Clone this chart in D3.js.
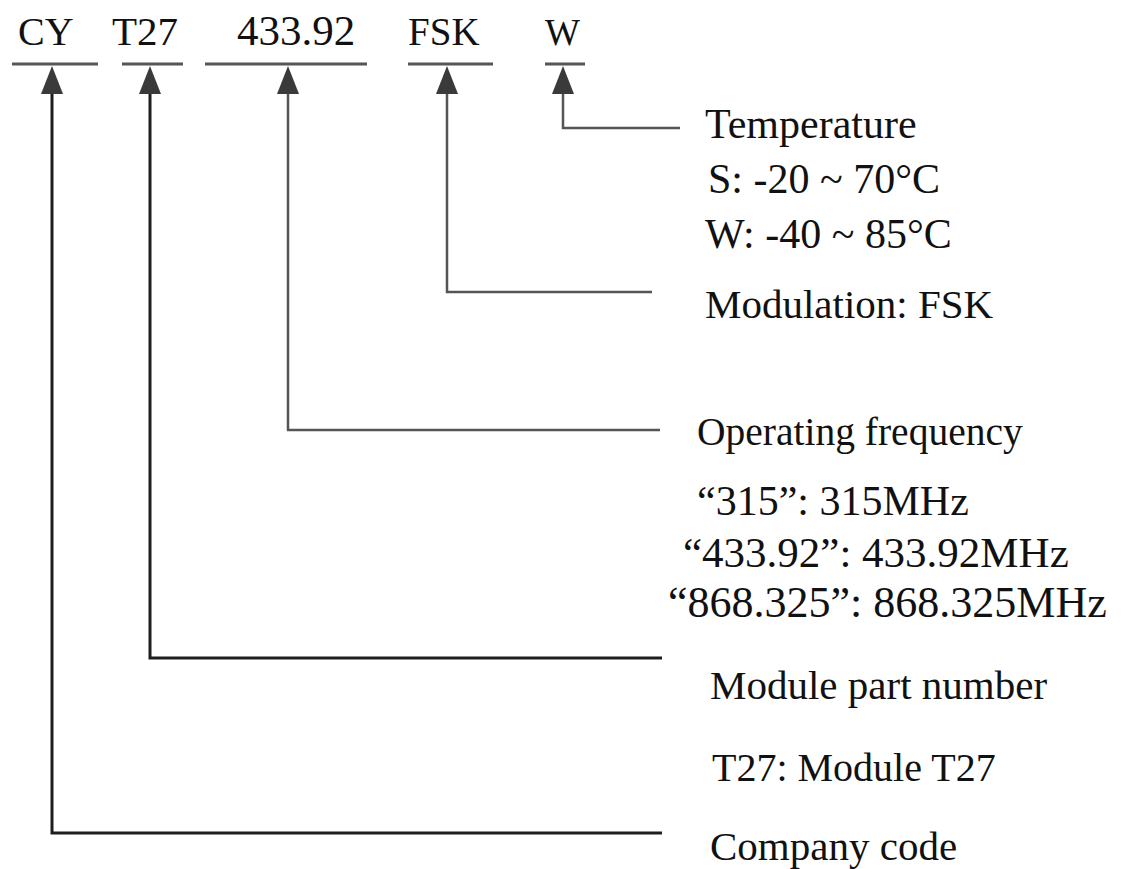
<!DOCTYPE html>
<html>
<head>
<meta charset="utf-8">
<script src="https://cdn.jsdelivr.net/npm/d3@7"></script>
<style>
  body { margin: 0; background: #fff; }
</style>
</head>
<body>
<div id="diagram"></div>
<script>
// part number fields, left to right
let codes = ["CY", "T27", "433.92", "FSK", "W"];
// text attached to each field, top to bottom on the right
let descriptions = [
    ["Company code"],
    ["Module part number", "T27: Module T27"],
    ["Operating frequency", "\u201c315\u201d: 315MHz", "\u201c433.92\u201d: 433.92MHz", "\u201c868.325\u201d: 868.325MHz"],
    ["Modulation: FSK"],
    ["Temperature", "S: -20 ~ 70\u00b0C", "W: -40 ~ 85\u00b0C"]
];

// layout (pixels)
let bar_left  = [12, 122, 205, 408, 545];
let bar_right = [98, 183, 367, 493, 585];
let label_x   = [18, 112, 237, 408, 545];
let label_size = [40, 41, 43, 39, 37];
let arrow_x   = [52, 150, 288, 447, 563];
let elbow_y   = [833, 658, 430, 292, 128];
let line_end  = [662, 662, 660, 652, 680];
let stroke_col = ["#1e1e1e", "#1e1e1e", "#555", "#555", "#555"];
let stroke_w   = [3, 3, 2.5, 2.5, 2.5];

let desc_pos = [
    [[710, 860]],
    [[710, 699], [712, 781]],
    [[697, 445], [697, 515], [683, 567], [668, 617]],
    [[705, 318]],
    [[705, 138], [708, 193], [705, 248]]
];
let desc_size = [
    [41],
    [41, 40],
    [39.5, 42, 43, 44],
    [41],
    [42, 42, 42]
];

let font = "'Liberation Serif', 'Times New Roman', 'DejaVu Serif', serif";
let width = 1123, height = 869;
let svg = d3.select("#diagram").append("svg")
    .attr("width", width).attr("height", height)
    .attr("font-family", font);

let bar_y = 64;
let fields = svg.selectAll("g.field")
    .data(codes)
    .enter().append("g")
    .attr("class", "field");

fields.append("text")
    .attr("x", (d, i) => label_x[i])
    .attr("y", 45)
    .attr("fill", "#111")
    .attr("font-size", (d, i) => label_size[i] + "px")
    .text(d => d);

fields.append("line")
    .attr("x1", (d, i) => bar_left[i])
    .attr("x2", (d, i) => bar_right[i])
    .attr("y1", bar_y).attr("y2", bar_y)
    .attr("stroke", "#555").attr("stroke-width", 3);

// leader line: up to the bar, then across to the description
fields.append("path")
    .attr("d", (d, i) => d3.line()([
        [arrow_x[i], bar_y + 28],
        [arrow_x[i], elbow_y[i]],
        [line_end[i], elbow_y[i]]
    ]))
    .attr("fill", "none")
    .attr("stroke", (d, i) => stroke_col[i])
    .attr("stroke-width", (d, i) => stroke_w[i]);

fields.append("path")
    .attr("d", (d, i) => {
        let x = arrow_x[i];
        return d3.line()([[x, bar_y + 2], [x - 11, bar_y + 30], [x + 11, bar_y + 30]]) + "Z";
    })
    .attr("fill", "#3a3a3a");

codes.forEach((c, i) => {
    descriptions[i].forEach((t, j) => {
        let p = desc_pos[i][j];
        svg.append("text")
            .attr("x", p[0])
            .attr("y", p[1])
            .attr("fill", "#111")
            .attr("font-size", desc_size[i][j] + "px")
            .text(t);
    });
});
</script>
</body>
</html>
